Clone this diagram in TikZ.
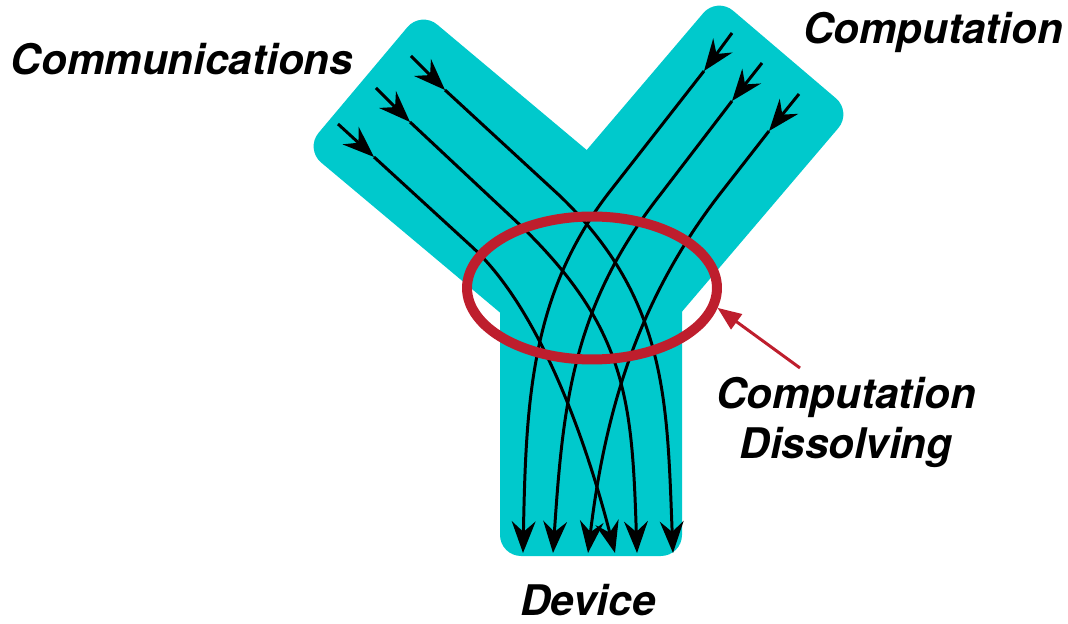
\documentclass[tikz,border=0pt]{standalone}
\usepackage{fontspec}
\setmainfont{TeX Gyre Heros}
\usetikzlibrary{arrows.meta,shapes.geometric}
\definecolor{bandcyan}{RGB}{0,201,204}
\definecolor{ringred}{RGB}{190,30,45}

\begin{document}
\begin{tikzpicture}[x=0.02cm, y=-0.02cm,
    band/.style={fill=bandcyan, rounded corners=12pt},
    flow/.style={line width=1.7pt, -{Stealth[length=18pt, width=13.5pt, inset=6pt]}},
    pointer/.style={draw=ringred, line width=1.7pt, -{Triangle[length=13.5pt, width=10.5pt]}},
    bigtext/.style={font=\fontsize{24pt}{28.4pt}\selectfont\bfseries\itshape, inner sep=0pt}]
  \useasboundingbox (0,0) rectangle (1068,624);

  \fill[band] (421,11) -- (305,149) -- (547,352) -- (663,214) -- cycle;
  \fill[band] (717,-3) -- (852,112) -- (657,341) -- (522,226) -- cycle;
  \fill[band] (500,250) rectangle (682,556);

  \coordinate (l1s) at (338,124); \coordinate (l1a) at (374,157); \coordinate (l1e) at (615,553);
  \coordinate (l2s) at (376,88);  \coordinate (l2a) at (410,122); \coordinate (l2e) at (637,553);
  \coordinate (l3s) at (411,56);  \coordinate (l3a) at (445,90);  \coordinate (l3e) at (673,553);
  \coordinate (r1s) at (732,33);  \coordinate (r1a) at (704,71);  \coordinate (r1e) at (523,553);
  \coordinate (r2s) at (762,63);  \coordinate (r2a) at (732,101); \coordinate (r2e) at (553,553);
  \coordinate (r3s) at (799,94);  \coordinate (r3a) at (769,131); \coordinate (r3e) at (588,553);

  \draw[flow] (l1s) -- (l1a);
  \draw[flow] (l1a) -- (470,245) .. controls +(67,60) and +(-31,-120) .. (l1e);
  \draw[flow] (l2s) -- (l2a);
  \draw[flow] (l2a) -- (520,225) .. controls +(108,104) and +(-5,-150) .. (l2e);
  \draw[flow] (l3s) -- (l3a);
  \draw[flow] (l3a) -- (560,196) .. controls +(108,104) and +(-6,-150) .. (l3e);
  \draw[flow] (r1s) -- (r1a);
  \draw[flow] (r1a) -- (611,190) .. controls +(-81,103) and +(3,-150) .. (r1e);
  \draw[flow] (r2s) -- (r2a);
  \draw[flow] (r2a) -- (660,195) .. controls +(-87,111) and +(10,-150) .. (r2e);
  \draw[flow] (r3s) -- (r3a);
  \draw[flow] (r3a) -- (723,190) .. controls +(-81,103) and +(18,-150) .. (r3e);

  \node[ellipse, draw=ringred, line width=0.2cm, inner sep=0pt,
        minimum width=5cm, minimum height=2.86cm] (ring) at (592,288) {};

  \node[bigtext, anchor=base] (comm) at (182,75) {Communications};
  \node[bigtext, anchor=base] (comp) at (933,44) {Computation};
  \node[bigtext, anchor=north, align=center] (dissolve) at (846,377) {Computation\\Dissolving};
  \node[bigtext, anchor=base] (device) at (588,615) {Device};

  \coordinate (tail) at (800,368);
  \draw[pointer] (tail) -- (ring.-9);
\end{tikzpicture}
\end{document}
